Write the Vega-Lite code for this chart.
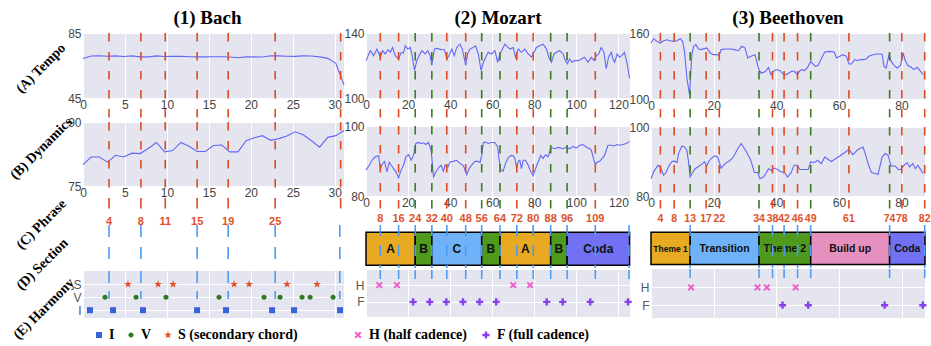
{
"$schema": "https://vega.github.io/schema/vega-lite/v6.json",
"padding": {"left": 7, "top": 9, "right": 2, "bottom": 2},
"background": "white",
"datasets": {
"bt": [{"x":0,"v":69.3},{"x":0.97,"v":70.8},{"x":1.94,"v":71.0},{"x":2.92,"v":70.7},{"x":3.89,"v":70.9},{"x":4.86,"v":70.5},{"x":5.83,"v":70.9},{"x":6.8,"v":70.3},{"x":7.78,"v":70.3},{"x":8.75,"v":70.9},{"x":9.72,"v":70.5},{"x":10.69,"v":70.6},{"x":11.66,"v":70.6},{"x":12.64,"v":70.4},{"x":13.61,"v":70.3},{"x":14.58,"v":70.3},{"x":15.55,"v":70.4},{"x":16.52,"v":70.4},{"x":17.5,"v":70.2},{"x":18.47,"v":69.8},{"x":19.44,"v":70.3},{"x":20.41,"v":70.3},{"x":21.38,"v":70.2},{"x":22.36,"v":71.0},{"x":23.33,"v":70.9},{"x":24.3,"v":70.7},{"x":25.27,"v":70.6},{"x":26.24,"v":70.9},{"x":27.22,"v":70.8},{"x":28.19,"v":70.3},{"x":29.16,"v":69.4},{"x":30.13,"v":66.3},{"x":31.1,"v":53.0}],
"bd": [{"x":0,"v":80.0},{"x":0.97,"v":81.8},{"x":1.94,"v":81.8},{"x":2.92,"v":80.6},{"x":3.89,"v":82.2},{"x":4.86,"v":81.8},{"x":5.83,"v":82.7},{"x":6.8,"v":82.6},{"x":7.78,"v":83.8},{"x":8.75,"v":85.2},{"x":9.72,"v":83.0},{"x":10.69,"v":83.3},{"x":11.66,"v":85.2},{"x":12.64,"v":84.3},{"x":13.61,"v":83.1},{"x":14.58,"v":83.1},{"x":15.55,"v":84.5},{"x":16.52,"v":84.6},{"x":17.5,"v":83.0},{"x":18.47,"v":83.0},{"x":19.44,"v":85.6},{"x":20.41,"v":86.3},{"x":21.38,"v":86.8},{"x":22.36,"v":85.7},{"x":23.33,"v":86.1},{"x":24.3,"v":86.7},{"x":25.27,"v":87.7},{"x":26.24,"v":87.0},{"x":27.22,"v":85.6},{"x":28.19,"v":84.1},{"x":29.16,"v":86.4},{"x":30.13,"v":86.8},{"x":31.1,"v":88.0}],
"bp": [{"x":3.1,"lab":"4","k":"r"},{"x":6.9,"lab":"8","k":"r"},{"x":9.8,"lab":"11","k":"r"},{"x":13.6,"lab":"15","k":"r"},{"x":17.3,"lab":"19","k":"r"},{"x":22.9,"lab":"25","k":"r"},{"x":30.7,"lab":"","k":"r"}],
"bb": [{"x":3.1},{"x":6.9},{"x":13.6},{"x":17.3},{"x":22.9},{"x":30.6}],
"bh": [{"x":0.83,"t":"I"},{"x":3.58,"t":"I"},{"x":7.15,"t":"I"},{"x":13.59,"t":"I"},{"x":17.04,"t":"I"},{"x":22.53,"t":"I"},{"x":25.15,"t":"I"},{"x":30.63,"t":"I"},{"x":2.62,"t":"V"},{"x":6.32,"t":"V"},{"x":9.89,"t":"V"},{"x":16.21,"t":"V"},{"x":21.57,"t":"V"},{"x":23.48,"t":"V"},{"x":26.1,"t":"V"},{"x":27.06,"t":"V"},{"x":29.8,"t":"V"},{"x":5.36,"t":"S"},{"x":8.94,"t":"S"},{"x":10.73,"t":"S"},{"x":18.0,"t":"S"},{"x":19.79,"t":"S"},{"x":24.31,"t":"S"},{"x":27.89,"t":"S"}],
"mt": [{"x":0,"v":123.0},{"x":2.05,"v":129.1},{"x":3.63,"v":126.1},{"x":5.21,"v":130.1},{"x":6.79,"v":125.1},{"x":7.9,"v":129.1},{"x":9.16,"v":127.1},{"x":10.43,"v":129.7},{"x":11.53,"v":128.1},{"x":12.64,"v":131.1},{"x":13.9,"v":126.1},{"x":15.48,"v":124.0},{"x":16.75,"v":128.1},{"x":17.85,"v":127.7},{"x":18.64,"v":132.1},{"x":19.9,"v":130.1},{"x":21.0,"v":131.1},{"x":21.8,"v":127.1},{"x":23.07,"v":117.0},{"x":24.17,"v":123.0},{"x":25.28,"v":126.1},{"x":26.54,"v":129.1},{"x":28.12,"v":127.1},{"x":29.38,"v":129.1},{"x":30.49,"v":126.1},{"x":31.28,"v":120.0},{"x":32.54,"v":130.1},{"x":33.65,"v":130.5},{"x":36.0,"v":129.7},{"x":37.3,"v":129.7},{"x":38.4,"v":124.0},{"x":39.5,"v":126.1},{"x":40.76,"v":130.1},{"x":42.0,"v":126.1},{"x":43.1,"v":131.1},{"x":44.7,"v":133.1},{"x":45.8,"v":130.1},{"x":47.4,"v":120.0},{"x":48.3,"v":127.1},{"x":49.4,"v":130.1},{"x":51.0,"v":131.1},{"x":52.1,"v":132.1},{"x":53.4,"v":127.1},{"x":54.7,"v":117.0},{"x":55.8,"v":122.0},{"x":56.9,"v":125.1},{"x":58.1,"v":128.1},{"x":59.7,"v":127.1},{"x":61.3,"v":129.1},{"x":62.6,"v":122.0},{"x":63.7,"v":127.1},{"x":64.5,"v":129.1},{"x":66.0,"v":133.1},{"x":67.6,"v":131.1},{"x":68.4,"v":130.1},{"x":70.0,"v":131.1},{"x":71.1,"v":125.1},{"x":72.4,"v":130.1},{"x":73.9,"v":128.1},{"x":75.5,"v":130.1},{"x":77.1,"v":127.1},{"x":78.7,"v":125.1},{"x":79.9,"v":128.1},{"x":81.0,"v":131.1},{"x":82.6,"v":132.1},{"x":84.2,"v":133.1},{"x":85.8,"v":130.1},{"x":86.9,"v":125.1},{"x":88.2,"v":122.0},{"x":89.4,"v":127.1},{"x":90.5,"v":128.1},{"x":92.1,"v":129.1},{"x":93.7,"v":127.1},{"x":94.8,"v":123.0},{"x":95.7,"v":121.0},{"x":96.8,"v":124.0},{"x":97.9,"v":122.0},{"x":99.2,"v":123.0},{"x":100.8,"v":123.0},{"x":102.4,"v":124.0},{"x":103.9,"v":125.1},{"x":105.5,"v":122.0},{"x":107.1,"v":125.1},{"x":108.4,"v":123.0},{"x":109.5,"v":126.1},{"x":110.6,"v":127.1},{"x":111.8,"v":131.1},{"x":113.1,"v":128.1},{"x":114.2,"v":118.0},{"x":115.3,"v":125.1},{"x":116.6,"v":128.1},{"x":117.4,"v":124.0},{"x":118.2,"v":122.0},{"x":119.4,"v":127.1},{"x":120.5,"v":125.1},{"x":121.6,"v":126.1},{"x":122.9,"v":128.1},{"x":124.0,"v":122.0},{"x":125.3,"v":112.0}],
"md": [{"x":0,"v":87.4},{"x":1.58,"v":88.8},{"x":2.84,"v":90.2},{"x":4.4,"v":91.2},{"x":6.0,"v":91.5},{"x":6.8,"v":87.8},{"x":7.9,"v":89.3},{"x":8.8,"v":89.9},{"x":9.95,"v":86.9},{"x":11.06,"v":89.7},{"x":12.0,"v":88.8},{"x":13.1,"v":87.8},{"x":14.2,"v":86.9},{"x":15.5,"v":85.2},{"x":16.7,"v":87.4},{"x":17.85,"v":88.8},{"x":18.96,"v":91.2},{"x":20.2,"v":91.8},{"x":21.5,"v":90.2},{"x":22.6,"v":91.6},{"x":23.7,"v":95.0},{"x":24.96,"v":95.3},{"x":26.2,"v":95.0},{"x":27.3,"v":95.2},{"x":28.4,"v":94.7},{"x":29.7,"v":95.3},{"x":30.96,"v":93.1},{"x":32.1,"v":85.5},{"x":33.2,"v":86.9},{"x":34.4,"v":88.0},{"x":35.7,"v":88.8},{"x":36.8,"v":87.1},{"x":37.6,"v":88.8},{"x":38.9,"v":88.3},{"x":39.97,"v":89.7},{"x":41.5,"v":89.9},{"x":43.1,"v":90.2},{"x":44.7,"v":89.3},{"x":46.3,"v":88.6},{"x":47.9,"v":86.1},{"x":48.97,"v":87.8},{"x":50.2,"v":88.8},{"x":51.8,"v":89.9},{"x":53.1,"v":89.9},{"x":54.2,"v":89.6},{"x":55.0,"v":91.6},{"x":55.8,"v":95.3},{"x":56.9,"v":95.4},{"x":58.1,"v":95.0},{"x":59.7,"v":95.3},{"x":61.3,"v":95.3},{"x":62.6,"v":94.0},{"x":63.2,"v":90.7},{"x":64.1,"v":87.4},{"x":65.2,"v":87.1},{"x":66.3,"v":89.3},{"x":67.6,"v":90.9},{"x":68.9,"v":91.6},{"x":70.0,"v":91.5},{"x":70.8,"v":90.7},{"x":71.6,"v":88.0},{"x":72.4,"v":89.9},{"x":73.1,"v":90.2},{"x":73.9,"v":87.8},{"x":74.7,"v":90.2},{"x":75.8,"v":90.2},{"x":77.1,"v":88.8},{"x":78.4,"v":86.9},{"x":79.5,"v":85.8},{"x":80.6,"v":87.8},{"x":81.8,"v":89.7},{"x":83.1,"v":91.6},{"x":84.2,"v":90.7},{"x":85.3,"v":91.8},{"x":86.6,"v":91.2},{"x":87.8,"v":93.7},{"x":88.9,"v":93.7},{"x":90.05,"v":93.5},{"x":91.3,"v":93.9},{"x":92.6,"v":93.7},{"x":93.7,"v":93.5},{"x":95.3,"v":93.9},{"x":96.8,"v":93.5},{"x":98.4,"v":94.2},{"x":100.0,"v":93.7},{"x":101.6,"v":94.5},{"x":103.1,"v":94.7},{"x":104.7,"v":94.0},{"x":106.3,"v":93.5},{"x":107.1,"v":93.1},{"x":108.4,"v":90.2},{"x":109.0,"v":89.0},{"x":109.9,"v":89.7},{"x":111.1,"v":89.9},{"x":112.2,"v":90.7},{"x":113.4,"v":91.6},{"x":115.0,"v":94.5},{"x":116.6,"v":94.5},{"x":117.8,"v":94.3},{"x":119.4,"v":94.7},{"x":120.5,"v":94.5},{"x":122.1,"v":94.7},{"x":123.7,"v":95.0},{"x":125.3,"v":95.6}],
"mp": [{"x":6.8,"lab":"8","k":"r"},{"x":15.5,"lab":"16","k":"r"},{"x":23.4,"lab":"24","k":"g"},{"x":31.3,"lab":"32","k":"g"},{"x":38.4,"lab":"40","k":"r"},{"x":47.4,"lab":"48","k":"r"},{"x":55,"lab":"56","k":"g"},{"x":63.7,"lab":"64","k":"g"},{"x":71.7,"lab":"72","k":"r"},{"x":79.5,"lab":"80","k":"r"},{"x":87.8,"lab":"88","k":"g"},{"x":95.6,"lab":"96","k":"g"},{"x":109,"lab":"109","k":"r"}],
"mb": [{"x":6.8},{"x":15.5},{"x":23.4},{"x":31.3},{"x":38.4},{"x":47.4},{"x":55},{"x":63.7},{"x":71.7},{"x":79.5},{"x":87.8},{"x":95.6},{"x":109},{"x":125}],
"mh": [{"x":6.3,"t":"H"},{"x":14.7,"t":"H"},{"x":70,"t":"H"},{"x":78,"t":"H"},{"x":22.4,"t":"F"},{"x":30.3,"t":"F"},{"x":38.2,"t":"F"},{"x":46.1,"t":"F"},{"x":54,"t":"F"},{"x":61.9,"t":"F"},{"x":85.9,"t":"F"},{"x":93.5,"t":"F"},{"x":106.6,"t":"F"},{"x":124.6,"t":"F"}],
"ms": [{"s":0,"e":23.4,"name":"A"},{"s":23.4,"e":31.3,"name":"B"},{"s":31.3,"e":55,"name":"C"},{"s":55,"e":63.7,"name":"B"},{"s":63.7,"e":87.8,"name":"A"},{"s":87.8,"e":95.6,"name":"B"},{"s":95.6,"e":125.3,"name":"Coda"}],
"et": [{"x":0,"v":150.9},{"x":0.84,"v":154.8},{"x":1.9,"v":152.4},{"x":2.96,"v":150.9},{"x":4.02,"v":153.0},{"x":5.08,"v":153.9},{"x":6.15,"v":153.0},{"x":7.21,"v":152.4},{"x":8.27,"v":153.0},{"x":9.33,"v":154.8},{"x":10.1,"v":152.4},{"x":10.7,"v":143.3},{"x":11.45,"v":119.1},{"x":12.3,"v":103.9},{"x":13.04,"v":140.3},{"x":13.6,"v":147.9},{"x":14.3,"v":149.4},{"x":15.2,"v":145.5},{"x":16.0,"v":144.9},{"x":17.1,"v":145.8},{"x":17.8,"v":146.4},{"x":18.9,"v":141.8},{"x":19.9,"v":140.3},{"x":21.0,"v":140.3},{"x":21.75,"v":139.7},{"x":22.4,"v":144.9},{"x":23.7,"v":145.5},{"x":25.2,"v":145.5},{"x":26.6,"v":144.9},{"x":27.9,"v":143.9},{"x":28.97,"v":147.9},{"x":30.0,"v":146.4},{"x":30.9,"v":137.3},{"x":31.9,"v":138.8},{"x":33.2,"v":140.3},{"x":34.3,"v":128.2},{"x":35.1,"v":123.6},{"x":35.9,"v":124.2},{"x":36.6,"v":125.2},{"x":37.5,"v":128.8},{"x":38.3,"v":122.1},{"x":39.1,"v":125.2},{"x":40.1,"v":126.7},{"x":41.2,"v":125.8},{"x":42.2,"v":122.7},{"x":43.3,"v":122.1},{"x":44.0,"v":123.6},{"x":44.9,"v":125.2},{"x":45.7,"v":125.2},{"x":46.8,"v":122.1},{"x":47.5,"v":125.8},{"x":48.3,"v":126.7},{"x":49.1,"v":125.8},{"x":50.2,"v":129.7},{"x":51.0,"v":134.2},{"x":51.8,"v":131.8},{"x":52.5,"v":129.7},{"x":53.4,"v":130.6},{"x":54.5,"v":137.3},{"x":55.5,"v":142.7},{"x":57.1,"v":143.3},{"x":58.5,"v":142.7},{"x":59.2,"v":137.3},{"x":60.3,"v":138.8},{"x":61.3,"v":140.3},{"x":62.4,"v":138.8},{"x":63.2,"v":131.8},{"x":64.0,"v":131.8},{"x":65.1,"v":135.8},{"x":65.9,"v":134.8},{"x":66.7,"v":135.8},{"x":67.7,"v":135.8},{"x":68.8,"v":136.4},{"x":69.5,"v":138.8},{"x":70.9,"v":140.3},{"x":72.3,"v":140.9},{"x":73.0,"v":140.9},{"x":73.8,"v":140.9},{"x":74.4,"v":129.7},{"x":75.1,"v":128.2},{"x":76.0,"v":140.3},{"x":76.7,"v":134.2},{"x":77.6,"v":130.6},{"x":78.6,"v":128.2},{"x":79.7,"v":130.6},{"x":80.5,"v":141.8},{"x":81.2,"v":134.8},{"x":82.0,"v":130.6},{"x":83.1,"v":128.8},{"x":83.96,"v":126.7},{"x":85.0,"v":128.8},{"x":86.1,"v":125.2},{"x":86.9,"v":122.1}],
"ed": [{"x":0,"v":85.0},{"x":0.84,"v":87.0},{"x":2.22,"v":88.9},{"x":2.96,"v":88.4},{"x":4.02,"v":86.0},{"x":4.77,"v":86.8},{"x":5.83,"v":88.9},{"x":6.68,"v":90.0},{"x":7.52,"v":90.1},{"x":8.27,"v":89.7},{"x":8.8,"v":92.3},{"x":9.86,"v":94.5},{"x":10.7,"v":94.2},{"x":11.45,"v":93.2},{"x":11.99,"v":89.9},{"x":12.5,"v":85.5},{"x":13.3,"v":86.8},{"x":14.1,"v":87.9},{"x":14.95,"v":88.4},{"x":16.0,"v":89.1},{"x":17.1,"v":89.9},{"x":17.8,"v":88.7},{"x":18.6,"v":90.3},{"x":19.4,"v":91.0},{"x":20.3,"v":91.6},{"x":21.3,"v":91.3},{"x":22.4,"v":88.1},{"x":23.7,"v":89.4},{"x":25.2,"v":90.3},{"x":26.3,"v":91.3},{"x":27.7,"v":93.7},{"x":28.8,"v":95.2},{"x":29.5,"v":94.2},{"x":30.6,"v":92.6},{"x":31.9,"v":90.3},{"x":33.0,"v":86.8},{"x":34.1,"v":86.8},{"x":34.8,"v":85.0},{"x":35.9,"v":85.5},{"x":36.9,"v":86.8},{"x":37.5,"v":87.9},{"x":38.5,"v":87.4},{"x":39.4,"v":88.1},{"x":40.4,"v":87.7},{"x":41.5,"v":87.0},{"x":42.6,"v":86.8},{"x":43.6,"v":85.5},{"x":44.7,"v":86.7},{"x":45.7,"v":88.9},{"x":46.8,"v":88.9},{"x":47.5,"v":87.7},{"x":48.9,"v":87.7},{"x":50.2,"v":87.7},{"x":51.0,"v":89.9},{"x":52.1,"v":89.7},{"x":53.2,"v":90.3},{"x":54.4,"v":89.4},{"x":55.5,"v":91.3},{"x":56.6,"v":90.6},{"x":57.6,"v":90.0},{"x":58.9,"v":90.8},{"x":60.3,"v":91.6},{"x":61.9,"v":92.6},{"x":63.2,"v":93.5},{"x":64.5,"v":92.0},{"x":66.1,"v":93.5},{"x":67.7,"v":94.2},{"x":68.5,"v":92.0},{"x":69.5,"v":88.9},{"x":70.4,"v":86.8},{"x":71.7,"v":86.5},{"x":72.5,"v":86.2},{"x":73.8,"v":91.3},{"x":74.8,"v":92.3},{"x":75.7,"v":91.8},{"x":76.7,"v":88.7},{"x":78.0,"v":88.7},{"x":78.9,"v":87.7},{"x":79.7,"v":87.7},{"x":80.8,"v":88.9},{"x":81.8,"v":89.7},{"x":82.6,"v":88.4},{"x":83.6,"v":89.4},{"x":84.4,"v":87.9},{"x":85.2,"v":88.9},{"x":86.1,"v":87.7},{"x":86.9,"v":86.5}],
"ep": [{"x":3,"lab":"4","k":"r"},{"x":7.4,"lab":"8","k":"r"},{"x":12.5,"lab":"13","k":"g"},{"x":17.6,"lab":"17","k":"r"},{"x":21.8,"lab":"22","k":"r"},{"x":34.5,"lab":"34","k":"g"},{"x":38.8,"lab":"38","k":"r"},{"x":42.5,"lab":"42","k":"r"},{"x":46.8,"lab":"46","k":"r"},{"x":51,"lab":"49","k":"g"},{"x":63.2,"lab":"61","k":"r"},{"x":76.2,"lab":"74","k":"g"},{"x":80.1,"lab":"78","k":"r"},{"x":87.4,"lab":"82","k":"r"}],
"eb": [{"x":12.5},{"x":34.5},{"x":38.8},{"x":42.5},{"x":46.8},{"x":51},{"x":76.2},{"x":87.4}],
"eh": [{"x":12.8,"t":"H"},{"x":34,"t":"H"},{"x":37,"t":"H"},{"x":46.2,"t":"H"},{"x":42,"t":"F"},{"x":50.2,"t":"F"},{"x":74.6,"t":"F"},{"x":86.8,"t":"F"}],
"es": [{"s":0,"e":12.5,"name":"Theme 1"},{"s":12.5,"e":34.5,"name":"Transition"},{"s":34.5,"e":51,"name":"Theme 2"},{"s":51,"e":76.2,"name":"Build up"},{"s":76.2,"e":87.5,"name":"Coda"}]
},
"hconcat": [
{"bounds": "flush", "spacing": 0, "vconcat": [
 {"width": 261, "height": 65, "view": {"fill": "#E5E5EF"},
  "title": {"text": "(1) Bach", "font": "Liberation Serif", "fontSize": 19, "fontWeight": "bold", "color": "#000000", "frame": "group", "anchor": "middle", "baseline": "alphabetic", "offset": -16.3, "dx": -6},
  "layer": [
   {"data": {"name": "bt"}, "mark": {"type": "line", "color": "#6367F5", "strokeWidth": 1.1},
    "encoding": {"x": {"field": "x", "type": "quantitative", "scale": {"domain": [0, 31.1], "nice": false, "zero": false}, "axis": {"values": [0,5,10,15,20,25,30], "title": null, "grid": true, "labelPadding": 1}},
     "y": {"field": "v", "type": "quantitative", "scale": {"domain": [45, 85], "nice": false, "zero": false}, "axis": {"values": [45,55,65,75,85], "grid": true, "title": "(A) Tempo", "titleAngle": -45, "titleAlign": "center", "titleBaseline": "middle", "titleX": -42.5, "titleY": 35}}}},
   {"data": {"name": "bp"}, "mark": {"type": "rule", "strokeDash": [8.5, 10.5], "strokeWidth": 1.6},
    "encoding": {"x": {"field": "x", "type": "quantitative"}, "y": {"datum": 85}, "y2": {"datum": 30.2}, "stroke": {"field": "k", "type": "nominal", "scale": {"domain": ["r","g"], "range": ["#DD4B22","#3B7D1E"]}, "legend": null}}}
  ]},
 {"width": 261, "height": 24, "data": {"values": []}, "mark": "point"},
 {"width": 261, "height": 64, "view": {"fill": "#E5E5EF"},
  "layer": [
   {"data": {"name": "bd"}, "mark": {"type": "line", "color": "#6367F5", "strokeWidth": 1.1},
    "encoding": {"x": {"field": "x", "type": "quantitative", "scale": {"domain": [0, 31.1], "nice": false, "zero": false}, "axis": {"values": [0,5,10,15,20,25,30], "title": null, "grid": true, "labelPadding": 1}},
     "y": {"field": "v", "type": "quantitative", "scale": {"domain": [75, 90], "nice": false, "zero": false}, "axis": {"values": [75,80,85,90], "grid": true, "title": "(B) Dynamics", "titleAngle": -45, "titleAlign": "center", "titleBaseline": "middle", "titleX": -42, "titleY": 26}}}},
   {"data": {"name": "bp"}, "mark": {"type": "rule", "strokeDash": [8.5, 10.5], "strokeWidth": 1.6},
    "encoding": {"x": {"field": "x", "type": "quantitative"}, "y": {"datum": 90}, "y2": {"datum": 71.7}, "stroke": {"field": "k", "type": "nominal", "scale": {"domain": ["r","g"], "range": ["#DD4B22","#3B7D1E"]}, "legend": null}}}
  ]},
 {"width": 261, "height": 14, "data": {"values": []}, "mark": "point"},
 {"width": 261, "height": 25,
  "layer": [
   {"data": {"name": "bp"}, "mark": {"type": "rule", "strokeDash": [8.5, 10.5], "strokeWidth": 1.6},
    "encoding": {"x": {"field": "x", "type": "quantitative", "scale": {"domain": [0, 31.1], "nice": false, "zero": false}, "axis": null},
     "y": {"datum": 1, "type": "quantitative", "scale": {"domain": [0, 1], "nice": false, "zero": false}, "axis": {"title": "(C) Phrase", "labels": false, "grid": false, "titleAngle": -45, "titleAlign": "center", "titleBaseline": "middle", "titleX": -42, "titleY": 24}},
     "y2": {"datum": 0.5}, "stroke": {"field": "k", "type": "nominal", "scale": {"domain": ["r","g"], "range": ["#DD4B22","#3B7D1E"]}, "legend": null}}},
   {"data": {"name": "bp"}, "mark": {"type": "text", "font": "Liberation Sans", "fontWeight": "bold", "fontSize": 11, "color": "#E0502A", "baseline": "middle"},
    "encoding": {"x": {"field": "x", "type": "quantitative"}, "y": {"datum": 0.12}, "text": {"field": "lab"}}}
  ]},
 {"width": 261, "height": 43,
  "layer": [
   {"data": {"name": "bb"}, "mark": {"type": "rule", "strokeDash": [12, 10], "strokeWidth": 1.6, "color": "#4C9CF5"},
    "encoding": {"x": {"field": "x", "type": "quantitative", "scale": {"domain": [0, 31.1], "nice": false, "zero": false}, "axis": null},
     "y": {"datum": 1, "type": "quantitative", "scale": {"domain": [0, 1], "nice": false, "zero": false}, "axis": {"title": "(D) Section", "labels": false, "grid": false, "titleAngle": -45, "titleAlign": "center", "titleBaseline": "middle", "titleX": -41, "titleY": 39}},
     "y2": {"datum": 0}}}
  ]},
 {"width": 261, "height": 3, "data": {"values": []}, "mark": "point"},
 {"width": 261, "height": 47, "view": {"fill": "#E5E5EF"},
  "layer": [
   {"data": {"name": "bh"}, "mark": {"type": "point", "filled": true, "opacity": 1, "size": 36},
    "encoding": {"x": {"field": "x", "type": "quantitative", "scale": {"domain": [0, 31.1], "nice": false, "zero": false}, "axis": {"values": [0,5,10,15,20,25,30], "labels": false, "grid": true, "title": null}},
     "y": {"field": "t", "type": "nominal", "sort": null, "scale": {"type": "point", "domain": ["S","V","I"], "padding": 0.81, "align": 0.63}, "axis": {"title": "(E) Harmony", "grid": true, "labelColor": "#555555", "titleAngle": -45, "titleAlign": "center", "titleBaseline": "middle", "titleX": -39.5, "titleY": 37.5}},
     "color": {"field": "t", "type": "nominal", "scale": {"domain": ["I","V","S"], "range": ["#3464D5","#2E7A1E","#E2512A"]},
      "legend": {"orient": "none", "legendX": 9, "legendY": 295, "direction": "horizontal", "columns": 3, "title": null, "padding": 0, "labelFont": "Liberation Serif", "labelFontWeight": "bold", "labelFontSize": 14, "labelColor": "#000000", "columnPadding": 9, "labelOffset": 3, "symbolSize": 36, "symbolStrokeWidth": 0, "labelExpr": "datum.label == 'S' ? 'S (secondary chord)' : datum.label"}},
     "shape": {"field": "t", "type": "nominal", "scale": {"domain": ["I","V","S"], "range": ["square","M-0.85,0A0.85,0.85 0 1,0 0.85,0A0.85,0.85 0 1,0 -0.85,0Z","M0,-1.35L0.323,-0.445L1.284,-0.417L0.523,0.17L0.794,1.092L0,0.55L-0.794,1.092L-0.523,0.17L-1.284,-0.417L-0.323,-0.445Z"]},
      "legend": {"orient": "none", "legendX": 9, "legendY": 295, "direction": "horizontal", "columns": 3, "title": null, "padding": 0, "labelFont": "Liberation Serif", "labelFontWeight": "bold", "labelFontSize": 14, "labelColor": "#000000", "columnPadding": 9, "labelOffset": 3, "symbolSize": 36, "symbolStrokeWidth": 0, "labelExpr": "datum.label == 'S' ? 'S (secondary chord)' : datum.label"}}}},
   {"data": {"name": "bb"}, "mark": {"type": "rule", "strokeDash": [12, 8, 8, 200], "strokeWidth": 1.6, "color": "#4C9CF5"},
    "encoding": {"x": {"field": "x", "type": "quantitative"}}}
  ]}
]},
{"bounds": "flush", "spacing": 0, "vconcat": [
 {"width": 264, "height": 65, "view": {"fill": "#E5E5EF"},
  "title": {"text": "(2) Mozart", "font": "Liberation Serif", "fontSize": 19, "fontWeight": "bold", "color": "#000000", "frame": "group", "anchor": "middle", "baseline": "alphabetic", "offset": -16.3},
  "layer": [
   {"data": {"name": "mt"}, "mark": {"type": "line", "color": "#6367F5", "strokeWidth": 1.1},
    "encoding": {"x": {"field": "x", "type": "quantitative", "scale": {"domain": [0, 125.5], "nice": false, "zero": false}, "axis": {"values": [0,20,40,60,80,100,120], "title": null, "grid": true, "labelPadding": 1}},
     "y": {"field": "v", "type": "quantitative", "scale": {"domain": [100, 140], "nice": false, "zero": false}, "axis": {"values": [100,110,120,130,140], "grid": true, "title": null}}}},
   {"data": {"name": "mp"}, "mark": {"type": "rule", "strokeDash": [8.5, 10.5], "strokeWidth": 1.6},
    "encoding": {"x": {"field": "x", "type": "quantitative"}, "y": {"datum": 140}, "y2": {"datum": 82.8}, "stroke": {"field": "k", "type": "nominal", "scale": {"domain": ["r","g"], "range": ["#DD4B22","#3B7D1E"]}, "legend": null}}}
  ]},
 {"width": 264, "height": 28, "data": {"values": []}, "mark": "point"},
 {"width": 264, "height": 70, "view": {"fill": "#E5E5EF"},
  "layer": [
   {"data": {"name": "md"}, "mark": {"type": "line", "color": "#6367F5", "strokeWidth": 1.1},
    "encoding": {"x": {"field": "x", "type": "quantitative", "scale": {"domain": [0, 125.5], "nice": false, "zero": false}, "axis": {"values": [0,20,40,60,80,100,120], "title": null, "grid": true, "labelPadding": 1}},
     "y": {"field": "v", "type": "quantitative", "scale": {"domain": [80, 100], "nice": false, "zero": false}, "axis": {"values": [80,85,90,95,100], "grid": true, "title": null}}}},
   {"data": {"name": "mp"}, "mark": {"type": "rule", "strokeDash": [8.5, 10.5], "strokeWidth": 1.6},
    "encoding": {"x": {"field": "x", "type": "quantitative"}, "y": {"datum": 100}, "y2": {"datum": 78.86}, "stroke": {"field": "k", "type": "nominal", "scale": {"domain": ["r","g"], "range": ["#DD4B22","#3B7D1E"]}, "legend": null}}}
  ]},
 {"width": 264, "height": 4, "data": {"values": []}, "mark": "point"},
 {"width": 264, "height": 25,
  "layer": [
   {"data": {"name": "mp"}, "mark": {"type": "rule", "strokeDash": [8.5, 10.5], "strokeWidth": 1.6},
    "encoding": {"x": {"field": "x", "type": "quantitative", "scale": {"domain": [0, 125.5], "nice": false, "zero": false}, "axis": null},
     "y": {"datum": 1, "type": "quantitative", "scale": {"domain": [0, 1], "nice": false, "zero": false}, "axis": null},
     "y2": {"datum": 0.5}, "stroke": {"field": "k", "type": "nominal", "scale": {"domain": ["r","g"], "range": ["#DD4B22","#3B7D1E"]}, "legend": null}}},
   {"data": {"name": "mp"}, "mark": {"type": "text", "font": "Liberation Sans", "fontWeight": "bold", "fontSize": 11, "color": "#E0502A", "baseline": "middle"},
    "encoding": {"x": {"field": "x", "type": "quantitative"}, "y": {"datum": 0.23}, "text": {"field": "lab"}}}
  ]},
 {"width": 264, "height": 43,
  "layer": [
   {"data": {"name": "ms"}, "mark": {"type": "rect", "stroke": "#000000", "strokeWidth": 1.5},
    "encoding": {"x": {"field": "s", "type": "quantitative", "scale": {"domain": [0, 125.5], "nice": false, "zero": false}, "axis": null}, "x2": {"field": "e"},
     "y": {"datum": 0.83, "type": "quantitative", "scale": {"domain": [0, 1], "nice": false, "zero": false}, "axis": null}, "y2": {"datum": 0.063},
     "fill": {"field": "name", "type": "nominal", "scale": {"domain": ["A","B","C","Coda"], "range": ["#E8A923","#4F9A1C","#6FB2F7","#7271F3"]}, "legend": null}}},
   {"data": {"name": "ms"}, "transform": [{"calculate": "(datum.s + datum.e) / 2", "as": "mid"}],
    "mark": {"type": "text", "font": "Liberation Sans", "fontWeight": "bold", "fontSize": 12, "color": "#111111", "baseline": "middle"},
    "encoding": {"x": {"field": "mid", "type": "quantitative"}, "y": {"datum": 0.447}, "text": {"field": "name"}}},
   {"data": {"name": "mb"}, "mark": {"type": "rule", "strokeDash": [11, 9], "strokeWidth": 1.6, "color": "#4C9CF5"},
    "encoding": {"x": {"field": "x", "type": "quantitative"}, "y": {"datum": 1}, "y2": {"datum": 0}}}
  ]},
 {"width": 264, "height": 2, "data": {"values": []}, "mark": "point"},
 {"width": 264, "height": 47, "view": {"fill": "#E5E5EF"},
  "layer": [
   {"data": {"name": "mh"}, "mark": {"type": "point", "filled": true, "opacity": 1, "size": 36},
    "encoding": {"x": {"field": "x", "type": "quantitative", "scale": {"domain": [0, 125.5], "nice": false, "zero": false}, "axis": {"values": [0,20,40,60,80,100,120], "labels": false, "grid": true, "title": null}},
     "y": {"field": "t", "type": "nominal", "sort": null, "scale": {"type": "point", "domain": ["H","F"], "padding": 0.9, "align": 0.5}, "axis": {"title": null, "grid": true, "labelColor": "#555555"}},
     "color": {"field": "t", "type": "nominal", "scale": {"domain": ["H","F"], "range": ["#F05CC8","#8B40F0"]},
      "legend": {"orient": "none", "legendX": -15, "legendY": 295, "direction": "horizontal", "columns": 2, "title": null, "padding": 0, "labelFont": "Liberation Serif", "labelFontWeight": "bold", "labelFontSize": 14, "labelColor": "#000000", "columnPadding": 12, "labelOffset": 4, "symbolSize": 36, "symbolStrokeWidth": 0, "labelExpr": "datum.label == 'H' ? 'H (half cadence)' : 'F (full cadence)'"}},
     "shape": {"field": "t", "type": "nominal", "scale": {"domain": ["H","F"], "range": ["M-1.15,-0.69L-0.69,-1.15L0,-0.46L0.69,-1.15L1.15,-0.69L0.46,0L1.15,0.69L0.69,1.15L0,0.46L-0.69,1.15L-1.15,0.69L-0.46,0Z","M-0.4,-1.2L0.4,-1.2L0.4,-0.4L1.2,-0.4L1.2,0.4L0.4,0.4L0.4,1.2L-0.4,1.2L-0.4,0.4L-1.2,0.4L-1.2,-0.4L-0.4,-0.4Z"]},
      "legend": {"orient": "none", "legendX": -15, "legendY": 295, "direction": "horizontal", "columns": 2, "title": null, "padding": 0, "labelFont": "Liberation Serif", "labelFontWeight": "bold", "labelFontSize": 14, "labelColor": "#000000", "columnPadding": 12, "labelOffset": 4, "symbolSize": 36, "symbolStrokeWidth": 0, "labelExpr": "datum.label == 'H' ? 'H (half cadence)' : 'F (full cadence)'"}}}},
   {"data": {"name": "mb"}, "mark": {"type": "rule", "strokeDash": [9, 200], "strokeWidth": 1.6, "color": "#4C9CF5"},
    "encoding": {"x": {"field": "x", "type": "quantitative"}}}
  ]}
]},
{"bounds": "flush", "spacing": 0, "vconcat": [
 {"width": 274, "height": 66, "view": {"fill": "#E5E5EF"},
  "title": {"text": "(3) Beethoven", "font": "Liberation Serif", "fontSize": 19, "fontWeight": "bold", "color": "#000000", "frame": "group", "anchor": "middle", "baseline": "alphabetic", "offset": -16.3},
  "layer": [
   {"data": {"name": "et"}, "mark": {"type": "line", "color": "#6367F5", "strokeWidth": 1.1},
    "encoding": {"x": {"field": "x", "type": "quantitative", "scale": {"domain": [0, 87.5], "nice": false, "zero": false}, "axis": {"values": [0,10,20,30,40,50,60,70,80], "title": null, "grid": true, "labelPadding": 1}},
     "y": {"field": "v", "type": "quantitative", "scale": {"domain": [100, 160], "nice": false, "zero": false}, "axis": {"values": [100,115,130,145,160], "grid": true, "title": null}}}},
   {"data": {"name": "ep"}, "mark": {"type": "rule", "strokeDash": [8.5, 10.5], "strokeWidth": 1.6},
    "encoding": {"x": {"field": "x", "type": "quantitative"}, "y": {"datum": 160}, "y2": {"datum": 74.5}, "stroke": {"field": "k", "type": "nominal", "scale": {"domain": ["r","g"], "range": ["#DD4B22","#3B7D1E"]}, "legend": null}}}
  ]},
 {"width": 274, "height": 28, "data": {"values": []}, "mark": "point"},
 {"width": 274, "height": 69, "view": {"fill": "#E5E5EF"},
  "layer": [
   {"data": {"name": "ed"}, "mark": {"type": "line", "color": "#6367F5", "strokeWidth": 1.1},
    "encoding": {"x": {"field": "x", "type": "quantitative", "scale": {"domain": [0, 87.5], "nice": false, "zero": false}, "axis": {"values": [0,10,20,30,40,50,60,70,80], "title": null, "grid": true, "labelPadding": 1}},
     "y": {"field": "v", "type": "quantitative", "scale": {"domain": [80, 100], "nice": false, "zero": false}, "axis": {"values": [80,85,90,95,100], "grid": true, "title": null}}}},
   {"data": {"name": "ep"}, "mark": {"type": "rule", "strokeDash": [8.5, 10.5], "strokeWidth": 1.6},
    "encoding": {"x": {"field": "x", "type": "quantitative"}, "y": {"datum": 100}, "y2": {"datum": 78.84}, "stroke": {"field": "k", "type": "nominal", "scale": {"domain": ["r","g"], "range": ["#DD4B22","#3B7D1E"]}, "legend": null}}}
  ]},
 {"width": 274, "height": 4, "data": {"values": []}, "mark": "point"},
 {"width": 274, "height": 25,
  "layer": [
   {"data": {"name": "ep"}, "mark": {"type": "rule", "strokeDash": [8.5, 10.5], "strokeWidth": 1.6},
    "encoding": {"x": {"field": "x", "type": "quantitative", "scale": {"domain": [0, 87.5], "nice": false, "zero": false}, "axis": null},
     "y": {"datum": 1, "type": "quantitative", "scale": {"domain": [0, 1], "nice": false, "zero": false}, "axis": null},
     "y2": {"datum": 0.5}, "stroke": {"field": "k", "type": "nominal", "scale": {"domain": ["r","g"], "range": ["#DD4B22","#3B7D1E"]}, "legend": null}}},
   {"data": {"name": "ep"}, "mark": {"type": "text", "font": "Liberation Sans", "fontWeight": "bold", "fontSize": 10.5, "color": "#E0502A", "baseline": "middle"},
    "encoding": {"x": {"field": "x", "type": "quantitative"}, "y": {"datum": 0.23}, "text": {"field": "lab"}}}
  ]},
 {"width": 274, "height": 43,
  "layer": [
   {"data": {"name": "es"}, "mark": {"type": "rect", "stroke": "#000000", "strokeWidth": 1.5},
    "encoding": {"x": {"field": "s", "type": "quantitative", "scale": {"domain": [0, 87.5], "nice": false, "zero": false}, "axis": null}, "x2": {"field": "e"},
     "y": {"datum": 0.83, "type": "quantitative", "scale": {"domain": [0, 1], "nice": false, "zero": false}, "axis": null}, "y2": {"datum": 0.08},
     "fill": {"field": "name", "type": "nominal", "scale": {"domain": ["Theme 1","Transition","Theme 2","Build up","Coda"], "range": ["#E8A923","#6FB2F7","#4F9A1C","#E590BF","#7271F3"]}, "legend": null}}},
   {"data": {"name": "es"}, "transform": [{"filter": "datum.name != 'Theme 1'"}, {"calculate": "(datum.s + datum.e) / 2", "as": "mid"}],
    "mark": {"type": "text", "font": "Liberation Sans", "fontWeight": "bold", "fontSize": 10.5, "color": "#111111", "baseline": "middle"},
    "encoding": {"x": {"field": "mid", "type": "quantitative"}, "y": {"datum": 0.447}, "text": {"field": "name"}}},
   {"data": {"name": "es"}, "transform": [{"filter": "datum.name == 'Theme 1'"}, {"calculate": "(datum.s + datum.e) / 2", "as": "mid"}],
    "mark": {"type": "text", "font": "Liberation Sans", "fontWeight": "bold", "fontSize": 8.5, "color": "#111111", "baseline": "middle"},
    "encoding": {"x": {"field": "mid", "type": "quantitative"}, "y": {"datum": 0.447}, "text": {"field": "name"}}},
   {"data": {"name": "eb"}, "mark": {"type": "rule", "strokeDash": [11, 9], "strokeWidth": 1.6, "color": "#4C9CF5"},
    "encoding": {"x": {"field": "x", "type": "quantitative"}, "y": {"datum": 1}, "y2": {"datum": 0}}}
  ]},
 {"width": 274, "height": 1, "data": {"values": []}, "mark": "point"},
 {"width": 274, "height": 49, "view": {"fill": "#E5E5EF"},
  "layer": [
   {"data": {"name": "eh"}, "mark": {"type": "point", "filled": true, "opacity": 1, "size": 36},
    "encoding": {"x": {"field": "x", "type": "quantitative", "scale": {"domain": [0, 87.5], "nice": false, "zero": false}, "axis": {"values": [0,10,20,30,40,50,60,70,80], "labels": false, "grid": true, "title": null}},
     "y": {"field": "t", "type": "nominal", "sort": null, "scale": {"type": "point", "domain": ["H","F"], "padding": 0.88, "align": 0.59}, "axis": {"title": null, "grid": true, "labelColor": "#555555"}},
     "color": {"field": "t", "type": "nominal", "scale": {"domain": ["H","F"], "range": ["#F05CC8","#8B40F0"]}, "legend": null},
     "shape": {"field": "t", "type": "nominal", "scale": {"domain": ["H","F"], "range": ["M-1.15,-0.69L-0.69,-1.15L0,-0.46L0.69,-1.15L1.15,-0.69L0.46,0L1.15,0.69L0.69,1.15L0,0.46L-0.69,1.15L-1.15,0.69L-0.46,0Z","M-0.4,-1.2L0.4,-1.2L0.4,-0.4L1.2,-0.4L1.2,0.4L0.4,0.4L0.4,1.2L-0.4,1.2L-0.4,0.4L-1.2,0.4L-1.2,-0.4L-0.4,-0.4Z"]}, "legend": null}}},
   {"data": {"name": "eb"}, "mark": {"type": "rule", "strokeDash": [9, 200], "strokeWidth": 1.6, "color": "#4C9CF5"},
    "encoding": {"x": {"field": "x", "type": "quantitative"}}}
  ]}
]}
],
"spacing": -4,
"resolve": {"scale": {"color": "independent", "shape": "independent", "fill": "independent", "stroke": "independent"}, "legend": {"color": "independent", "shape": "independent"}},
"config": {
 "view": {"stroke": null},
 "axis": {"labelFont": "Liberation Sans", "labelFontSize": 12, "labelColor": "#444444", "ticks": false, "domain": false, "gridColor": "#FFFFFF", "gridWidth": 1, "gridOpacity": 1, "titleFont": "Liberation Serif", "titleFontSize": 14, "titleFontWeight": "bold", "titleColor": "#000000", "labelPadding": 2, "labelFlush": false},
 "legend": {"padding": 0}
}
}
